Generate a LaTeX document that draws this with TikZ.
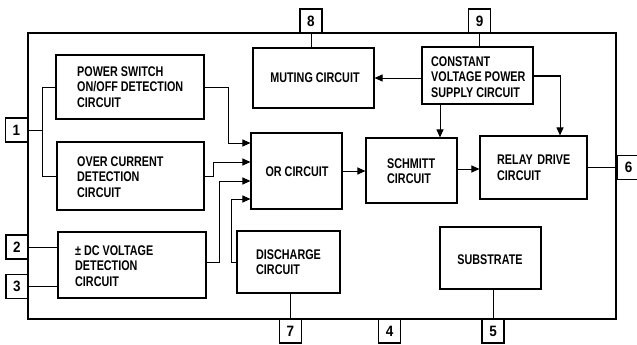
\documentclass[tikz,border=0pt]{standalone}
\usepackage{fontspec}
\newfontfamily\diag{Liberation Sans}[FakeStretch=0.77]
\newfontfamily\pinfont{Liberation Sans}[FakeStretch=0.9]
\usetikzlibrary{arrows.meta}
\begin{document}
\begin{tikzpicture}[x=1pt,y=-1pt,
  box/.style={draw, line width=1.1pt, rectangle, inner sep=0pt},
  pinbox/.style={draw, line width=1.1pt, rectangle, inner sep=0pt, minimum width=22pt, minimum height=24pt, font=\pinfont\bfseries\fontsize{15}{16}\selectfont},
  txt/.style={inner sep=0pt, align=left, font=\diag\bfseries\fontsize{14}{15.5}\selectfont},
  ctxt/.style={inner sep=0pt, align=center, font=\diag\bfseries\fontsize{14}{15.5}\selectfont},
  wire/.style={line width=1pt},
  arr/.style={line width=1pt, -{Triangle[length=8pt,width=7pt]}}]
\useasboundingbox (0,0) rectangle (637,345);
% chip outline
\node[draw, line width=2.6pt, minimum width=588pt, minimum height=286pt, inner sep=0pt] (chip) at (322,176) {};
% pins
\node[pinbox] (p1) at (16.5,130) {1};
\node[pinbox] (p2) at (17,247) {2};
\node[pinbox] (p3) at (17,286.5) {3};
\node[pinbox] (p8) at (311,21) {8};
\node[pinbox] (p9) at (479.5,21) {9};
\node[pinbox] (p7) at (290.5,331) {7};
\node[pinbox] (p4) at (389.5,331) {4};
\node[pinbox] (p5) at (493,331) {5};
\node[pinbox, minimum width=23pt] (p6) at (628.5,167.5) {6};
% blocks
\node[box, minimum width=148pt, minimum height=64pt] (ps) at (130,87) {};
\node[txt, anchor=west] at (77,87) {POWER SWITCH\\ON/OFF DETECTION\\CIRCUIT};
\node[box, minimum width=147pt, minimum height=68pt] (oc) at (130.5,176) {};
\node[txt, anchor=west] at (77,177) {OVER CURRENT\\DETECTION\\CIRCUIT};
\node[box, minimum width=148pt, minimum height=66pt] (dc) at (132,265) {};
\node[txt, anchor=west] at (75,266) {± DC VOLTAGE\\DETECTION\\CIRCUIT};
\node[box, minimum width=121pt, minimum height=60pt] (mut) at (313.5,78) {};
\node[ctxt] at (315,78) {MUTING CIRCUIT};
\node[box, minimum width=111pt, minimum height=57pt] (cv) at (477.5,75.5) {};
\node[txt, anchor=west] at (431,77) {CONSTANT\\VOLTAGE POWER\\SUPPLY CIRCUIT};
\node[box, minimum width=91pt, minimum height=76pt] (or) at (296.5,171) {};
\node[ctxt] at (297,172) {OR CIRCUIT};
\node[box, minimum width=91pt, minimum height=65pt] (sch) at (411.5,170.5) {};
\node[txt, anchor=west] at (387,171) {SCHMITT\\CIRCUIT};
\node[box, minimum width=107pt, minimum height=63pt] (rel) at (533.5,167.5) {};
\node[txt, anchor=west] at (497,168) {RELAY\,\,DRIVE\\CIRCUIT};
\node[box, minimum width=103pt, minimum height=62pt] (dis) at (288.5,262) {};
\node[txt, anchor=west] at (256,262) {DISCHARGE\\CIRCUIT};
\node[box, minimum width=101pt, minimum height=62pt] (sub) at (490.5,258) {};
\node[ctxt] at (490,260) {SUBSTRATE};
% pin wiring
\coordinate (j1) at (43,130);
\draw[wire] (p1.east) -- (j1);
\draw[wire] (ps.west) -- ++(-13,0) |- (oc.west);
\draw[wire] (p2.east) -- (dc.west |- p2.east);
\draw[wire] (p3.east) -- (dc.west |- p3.east);
\draw[wire] (p8.south) -- (mut.north -| p8.south);
\draw[wire] (p9.south) -- (cv.north -| p9.south);
\draw[wire] (dis.south -| p7.north) -- (p7.north);
\draw[wire] (sub.south -| p5.north) -- (p5.north);
\draw[wire] (rel.east) -- (p6.west |- rel.east);
% signal arrows
\draw[arr] (ps.east) -- ++(24,0) |- (or.west |- 0,143);
\draw[arr] (oc.east) -- ++(9,0) |- (or.west |- 0,162);
\draw[arr] (dc.east |- 0,262) -- ++(13,0) |- (or.west |- 0,181);
\draw[arr] (dis.west) -- ++(-5,0) |- (or.west |- 0,199);
\draw[arr] (or.east) -- (sch.west |- or.east);
\draw[arr] (sch.east |- 0,169) -- (rel.west |- 0,169);
\draw[arr] (cv.west |- 0,78) -- (mut.east |- 0,78);
\draw[arr] (cv.south -| 440,0) -- (sch.north -| 440,0);
\draw[arr] (cv.east |- 0,76) -| (rel.north -| 560,0);
\end{tikzpicture}
\end{document}
